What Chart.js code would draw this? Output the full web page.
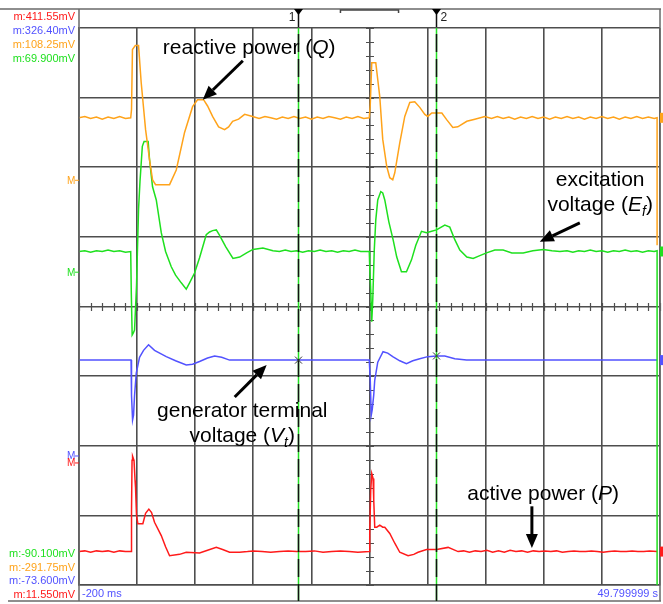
<!DOCTYPE html>
<html lang="en">
<head>
<meta charset="UTF-8">
<title>Generator step response</title>
<script src="https://cdn.jsdelivr.net/npm/chart.js"></script>
<style>
    body { margin: 0; background: #fff; }
    #wrap { width: 663px; height: 604px; }
</style>
</head>
<body>
<div id="wrap"><canvas id="scope" width="663" height="604"></canvas></div>
<script>
// x = time in ms (100 ms / div, screen starts at -200 ms), y = level in divisions (0 bottom .. 8 top)
const reactiveQ = [
    [-200,6.71],[-190,6.73],[-180,6.70],[-170,6.72],[-160,6.69],[-150,6.72],[-140,6.70],[-130,6.73],[-120,6.70],[-111,6.71],
    [-109.6,6.83],[-108,7.69],[-103,7.75],[-97.5,7.75],[-93,7.22],[-85.4,6.54],[-78.6,6.11],[-73.4,5.82],[-68.2,5.75],[-44.1,5.75],
    [-32.6,5.96],[-18.3,6.50],[-4.5,6.87],[4,6.97],[14.4,6.97],[21.3,6.88],[29.9,6.73],[40.3,6.58],[50.6,6.54],[57.5,6.58],
    [64.4,6.66],[74.7,6.69],[85.1,6.76],[98.8,6.73],
    [110,6.70],[120,6.73],[130,6.71],[140,6.69],[150,6.72],[160,6.70],[170,6.73],[180,6.70],[190,6.72],[200,6.69],
    [210,6.72],[220,6.70],[230,6.73],[240,6.71],[250,6.69],[260,6.72],[270,6.70],[280,6.73],[290,6.70],[299.6,6.71],
    [301.3,6.90],[303.9,7.50],[310.8,7.50],[314.2,7.26],[317.7,7.01],[322.8,6.40],[329.7,6.01],[334.9,5.85],[340,5.82],[343.5,5.92],
    [352.1,6.35],[360.7,6.73],[369.3,6.93],[377.9,6.94],[386.5,6.86],[395.2,6.76],[400.3,6.73],[407.2,6.78],[424.5,6.78],[433.1,6.68],
    [443.4,6.57],[452,6.58],[467.5,6.66],[481.3,6.69],[498.5,6.73],
    [510,6.70],[520,6.73],[530,6.70],[540,6.72],[550,6.69],[560,6.72],[570,6.70],[580,6.73],[590,6.70],[600,6.72],
    [610,6.69],[620,6.72],[630,6.70],[640,6.73],[650,6.70],[660,6.72],[670,6.69],[680,6.72],[690,6.70],[700,6.73],
    [710,6.70],[720,6.72],[730,6.69],[740,6.72],[750,6.70],[760,6.73],[770,6.70],[780,6.72],[790,6.70],[795,6.71],[795,4.88]
];
const excitationEf = [
    [-200,4.79],[-190,4.80],[-180,4.78],[-170,4.80],[-160,4.79],[-150,4.81],[-140,4.79],[-130,4.80],[-120,4.78],[-111,4.79],
    [-110,4.20],[-108.5,3.59],[-106.5,3.62],[-104.4,3.66],[-101,4.30],[-97.5,5.40],[-95,5.80],[-91,6.30],[-88,6.37],[-81,6.37],
    [-78.6,6.11],[-73.4,5.72],[-67,5.53],[-58.4,5.06],[-51,4.79],[-41.2,4.57],[-33.8,4.45],[-24,4.34],[-15.4,4.25],[-9.7,4.34],
    [-1.1,4.48],[7.5,4.70],[19,5.03],[24.8,5.07],[30,5.09],[36.3,5.10],[42,5.02],[52.4,4.86],[65,4.69],[76.5,4.71],
    [88.5,4.77],[99.4,4.82],[116.6,4.84],[133.8,4.80],
    [145,4.79],[155,4.81],[165,4.79],[175,4.80],[185,4.78],[195,4.80],[205,4.79],[215,4.81],[225,4.79],[235,4.80],
    [245,4.78],[255,4.80],[265,4.79],[275,4.81],[285,4.79],[299.6,4.79],
    [300.4,4.57],[302.1,4.24],[303.9,3.78],[305.6,4.09],[308.2,4.81],[310.8,5.24],[314.2,5.53],[319.4,5.65],[322.8,5.63],[326.3,5.53],
    [333.2,5.22],[340.6,4.96],[346.9,4.71],[355,4.50],[363.6,4.50],[372.3,4.67],[379.7,4.88],[389.5,5.08],[398.1,5.06],[407,5.08],
    [415.3,5.10],[429.6,5.17],[438.2,5.14],[446.8,4.96],[455.5,4.81],[467.5,4.71],[478.4,4.69],[489.9,4.73],[501.4,4.77],[515.7,4.81],
    [530,4.81],[545,4.77],[564.5,4.77],[581.2,4.80],[599,4.82],[614,4.80],[627.7,4.79],
    [640,4.80],[650,4.78],[660,4.80],[670,4.79],[680,4.81],[690,4.79],[700,4.80],[710,4.78],[720,4.80],[730,4.79],
    [740,4.81],[750,4.79],[760,4.80],[770,4.78],[780,4.80],[790,4.79],[795,4.80],[795,0]
];
const terminalVt = [
    [-200,3.23],[-150,3.23],[-110.4,3.23],[-109.6,2.72],[-107.8,2.37],[-106.1,2.44],[-104.4,2.72],[-101.5,3.04],[-95.8,3.27],[-88.9,3.37],
    [-80.3,3.45],[-70,3.37],[-49.8,3.28],[-33.8,3.22],[-15.4,3.16],[-4.5,3.17],[7.5,3.21],[21.3,3.26],[33.4,3.29],[45.5,3.27],
    [59.2,3.23],[100,3.23],[200,3.23],[299.6,3.23],
    [301.3,2.94],[303,2.44],[304.7,2.52],[307.3,2.73],[309,2.94],[314.2,3.20],[323.3,3.35],[331.4,3.33],[340,3.28],[352.1,3.22],
    [363.6,3.18],[374.5,3.22],[386.5,3.25],[400.3,3.28],[415.3,3.29],[429.6,3.29],[446.8,3.25],[467,3.23],[600,3.23],[795,3.23]
];
const activeP = [
    [-200,0.48],[-190,0.49],[-180,0.47],[-170,0.49],[-160,0.48],[-150,0.49],[-140,0.47],[-130,0.49],[-120,0.48],[-110.4,0.48],
    [-109.6,1.07],[-108.7,1.79],[-107.8,1.85],[-105.3,1.79],[-103.5,1.50],[-102.7,1.40],[-101,1.00],[-98.7,0.88],[-90.1,0.88],[-85.4,1.03],
    [-79.8,1.09],[-75.1,1.04],[-70,0.90],[-58.4,0.71],[-51,0.55],[-44.1,0.42],[-26.9,0.44],[-15.4,0.47],[7.5,0.46],[21.3,0.50],
    [36.3,0.54],[47.2,0.51],[59.2,0.47],[76.5,0.47],
    [90,0.48],[100,0.49],[115,0.48],[130,0.47],[145,0.48],[160,0.49],[175,0.48],[190,0.48],[205,0.49],[220,0.47],
    [235,0.48],[250,0.49],[265,0.48],[280,0.47],[299.6,0.48],
    [300.4,0.74],[302.1,1.36],[303.9,1.60],[306.1,1.53],[307.3,1.22],[309,0.83],[312.4,0.83],[317.7,0.86],[322.8,0.83],[326.3,0.83],
    [334.9,0.74],[343.5,0.60],[352.1,0.47],[366.4,0.42],[376.2,0.44],[383.6,0.47],[398.1,0.51],[415.8,0.51],[435.3,0.54],[452.5,0.48],
    [462,0.49],[472,0.47],[482,0.49],[492,0.48],[502,0.50],[512,0.47],[522,0.49],[532,0.47],[542,0.50],[552,0.48],
    [562,0.49],[572,0.47],[582,0.49],[592,0.48],[602,0.49],[612,0.48],[622,0.49],[632,0.47],[642,0.48],[652,0.49],
    [662,0.48],[672,0.48],[682,0.49],[692,0.48],[702,0.47],[712,0.48],[722,0.49],[732,0.48],[742,0.48],[752,0.49],
    [762,0.48],[772,0.48],[782,0.49],[795,0.48]
];
const cursorTimes = [177, 415];
const topReadouts = ['m:411.55mV', 'm:326.40mV', 'm:108.25mV', 'm:69.900mV'];
const bottomReadouts = ['m:-90.100mV', 'm:-291.75mV', 'm:-73.600mV', 'm:11.550mV'];
const timeStart = '-200 ms';
const timeStamp = '49.799999 s';

const C = { q: '#ffa31a', ef: '#1ee01e', vt: '#5252ff', p: '#ff1a1a', grid: '#4e4e4e', frame: '#6a6a6a' };
const FONT = '"Liberation Sans", Arial, sans-serif';

// annotation texts, anchored in data coordinates
const notes = [
    { lines: [[{ t: 'reactive power (' }, { t: 'Q', it: true }, { t: ')' }]], x: 93, y: 7.63 },
    { lines: [[{ t: 'excitation' }], [{ t: 'voltage (' }, { t: 'E', it: true }, { t: 'f', it: true, sub: true }, { t: ')' }]], x: 697, y: 5.73 },
    { lines: [[{ t: 'generator terminal' }], [{ t: 'voltage (' }, { t: 'V', it: true }, { t: 't', it: true, sub: true }, { t: ')' }]], x: 81, y: 2.41 },
    { lines: [[{ t: 'active power (' }, { t: 'P', it: true }, { t: ')' }]], x: 599, y: 1.22 }
];
const arrows = [
    { from: [82, 7.53], to: [13, 6.97] },
    { from: [662, 5.20], to: [593, 4.93] },
    { from: [68, 2.70], to: [123, 3.16] },
    { from: [579.5, 1.13], to: [579.5, 0.53] }
];

function toXY(pairs) { return pairs.map(p => ({ x: p[0], y: p[1] })); }

function drawRich(ctx, parts, cx, base) {
    const fontOf = p => (p.it ? 'italic ' : '') + (p.sub ? '14px ' : '21px ') + FONT;
    let w = 0;
    parts.forEach(p => { ctx.font = fontOf(p); w += ctx.measureText(p.t).width; });
    let x0 = cx - w / 2;
    parts.forEach(p => {
        ctx.font = fontOf(p);
        ctx.fillText(p.t, x0, base + (p.sub ? 5 : 0));
        x0 += ctx.measureText(p.t).width;
    });
}

function drawArrow(ctx, x1, y1, x2, y2) {
    const ang = Math.atan2(y2 - y1, x2 - x1), len = 14, half = 6;
    const bx = x2 - len * Math.cos(ang), by = y2 - len * Math.sin(ang);
    ctx.beginPath();
    ctx.moveTo(x1, y1); ctx.lineTo(bx, by);
    ctx.lineWidth = 3; ctx.strokeStyle = '#000'; ctx.stroke();
    ctx.beginPath();
    ctx.moveTo(x2, y2);
    ctx.lineTo(bx + half * Math.sin(ang), by - half * Math.cos(ang));
    ctx.lineTo(bx - half * Math.sin(ang), by + half * Math.cos(ang));
    ctx.closePath(); ctx.fillStyle = '#000'; ctx.fill();
}

const scopeDecor = {
    id: 'scopeDecor',
    beforeDatasetsDraw(chart) {
        const { ctx, scales: { x, y } } = chart;
        const yc = Math.round(y.getPixelForValue(4));
        const xc = Math.round(x.getPixelForValue(300));
        ctx.save();
        ctx.strokeStyle = C.grid; ctx.lineWidth = 1.2;
        ctx.beginPath();
        for (let i = 0; i <= 50; i++) {
            const px = Math.round(x.getPixelForValue(-200 + i * 20)) + 0.5;
            ctx.moveTo(px, yc - 4); ctx.lineTo(px, yc + 4);
        }
        for (let i = 0; i <= 40; i++) {
            const py = Math.round(y.getPixelForValue(i / 5)) + 0.5;
            ctx.moveTo(xc - 4, py); ctx.lineTo(xc + 4, py);
        }
        ctx.stroke();
        ctx.restore();
    },
    afterDatasetsDraw(chart) {
        const { ctx, scales: { x, y }, chartArea: a } = chart;
        ctx.save();

        // outer frame, header strip and bottom strip
        ctx.strokeStyle = C.frame; ctx.lineWidth = 1.5;
        ctx.beginPath();
        ctx.moveTo(0, 9); ctx.lineTo(661, 9);
        ctx.moveTo(a.left, 9); ctx.lineTo(a.left, 601);
        ctx.moveTo(a.right, 9); ctx.lineTo(a.right, 601);
        ctx.moveTo(8, 601); ctx.lineTo(661, 601);
        ctx.stroke();

        // window bracket in header
        const b1 = x.getPixelForValue(250), b2 = x.getPixelForValue(350);
        ctx.strokeStyle = '#444'; ctx.lineWidth = 1.5;
        ctx.beginPath();
        ctx.moveTo(b1, 13); ctx.lineTo(b1, 10); ctx.lineTo(b2, 10); ctx.lineTo(b2, 13);
        ctx.stroke();

        // cursors
        cursorTimes.forEach((t, i) => {
            const cx = Math.round(x.getPixelForValue(t)) + 0.5;
            ctx.lineWidth = 1.5;
            ctx.strokeStyle = '#22e022'; ctx.setLineDash([]);
            ctx.beginPath(); ctx.moveTo(cx, a.top); ctx.lineTo(cx, 601); ctx.stroke();
            ctx.strokeStyle = '#111'; ctx.setLineDash([18, 7]);
            ctx.beginPath(); ctx.moveTo(cx, 9); ctx.lineTo(cx, 601); ctx.stroke();
            ctx.setLineDash([]);
            ctx.fillStyle = '#000';
            ctx.beginPath(); ctx.moveTo(cx - 4.5, 9); ctx.lineTo(cx + 4.5, 9); ctx.lineTo(cx, 15); ctx.closePath(); ctx.fill();
            ctx.font = '12px ' + FONT; ctx.fillStyle = '#222';
            if (i === 0) { ctx.textAlign = 'right'; ctx.fillText('1', cx - 3, 21); }
            else { ctx.textAlign = 'left'; ctx.fillText('2', cx + 4, 21); }
            // x marker on the terminal voltage trace
            const vy = y.getPixelForValue(i === 0 ? 3.23 : 3.29);
            ctx.strokeStyle = '#333'; ctx.lineWidth = 1;
            ctx.beginPath();
            ctx.moveTo(cx - 3.5, vy - 3.5); ctx.lineTo(cx + 3.5, vy + 3.5);
            ctx.moveTo(cx + 3.5, vy - 3.5); ctx.lineTo(cx - 3.5, vy + 3.5);
            ctx.stroke();
        });

        // channel reference markers on the left edge
        [[C.q, 5.82], [C.ef, 4.50], [C.vt, 1.86], [C.p, 1.76]].forEach(([col, v]) => {
            const py = y.getPixelForValue(v);
            ctx.fillStyle = col; ctx.strokeStyle = col; ctx.lineWidth = 1;
            ctx.font = '10px ' + FONT; ctx.textAlign = 'left';
            ctx.fillText('M', 67, py + 4);
            ctx.beginPath(); ctx.moveTo(75, py + 0.5); ctx.lineTo(a.left, py + 0.5); ctx.stroke();
        });
        // channel tags on the right edge
        [[C.q, 6.71], [C.ef, 4.79], [C.vt, 3.23], [C.p, 0.48]].forEach(([col, v]) => {
            const py = y.getPixelForValue(v);
            ctx.fillStyle = col;
            ctx.fillRect(a.right, py - 5, 3, 10);
        });

        // readouts
        ctx.font = '11px ' + FONT; ctx.textAlign = 'right';
        [C.p, C.vt, C.q, C.ef].forEach((col, i) => {
            ctx.fillStyle = col; ctx.fillText(topReadouts[i], 75, 20 + i * 14);
        });
        [C.ef, C.q, C.vt, C.p].forEach((col, i) => {
            ctx.fillStyle = col; ctx.fillText(bottomReadouts[i], 75, 557 + i * 13.5);
        });
        ctx.fillStyle = C.vt;
        ctx.textAlign = 'left'; ctx.fillText(timeStart, a.left + 3, 597);
        ctx.textAlign = 'right'; ctx.fillText(timeStamp, a.right - 2, 597);

        // annotations
        ctx.fillStyle = '#000'; ctx.textAlign = 'left';
        notes.forEach(n => {
            const cx = x.getPixelForValue(n.x), base = y.getPixelForValue(n.y);
            n.lines.forEach((ln, k) => drawRich(ctx, ln, cx, base + k * 25));
        });
        arrows.forEach(ar => drawArrow(ctx,
            x.getPixelForValue(ar.from[0]), y.getPixelForValue(ar.from[1]),
            x.getPixelForValue(ar.to[0]), y.getPixelForValue(ar.to[1])));

        ctx.restore();
    }
};

const lineSet = (label, pairs, color) => ({
    label: label,
    data: toXY(pairs),
    borderColor: color,
    borderWidth: 1.5,
    pointRadius: 0,
    tension: 0,
    fill: false
});

const axis = (min, max, step) => ({
    type: 'linear',
    min: min,
    max: max,
    ticks: { stepSize: step, display: false },
    grid: { color: C.grid, lineWidth: 1.6, drawTicks: false },
    border: { display: true, color: C.grid, width: 1.6 }
});

new Chart(document.getElementById('scope'), {
    type: 'line',
    data: {
        datasets: [
            lineSet('Q', reactiveQ, C.q),
            lineSet('Ef', excitationEf, C.ef),
            lineSet('Vt', terminalVt, C.vt),
            lineSet('P', activeP, C.p)
        ]
    },
    options: {
        responsive: false,
        animation: false,
        devicePixelRatio: 1,
        layout: { padding: { left: 79, top: 28, right: 3, bottom: 19 } },
        plugins: { legend: { display: false }, tooltip: { enabled: false } },
        scales: {
            x: axis(-200, 800, 100),
            y: axis(0, 8, 1)
        }
    },
    plugins: [scopeDecor]
});
</script>
</body>
</html>
